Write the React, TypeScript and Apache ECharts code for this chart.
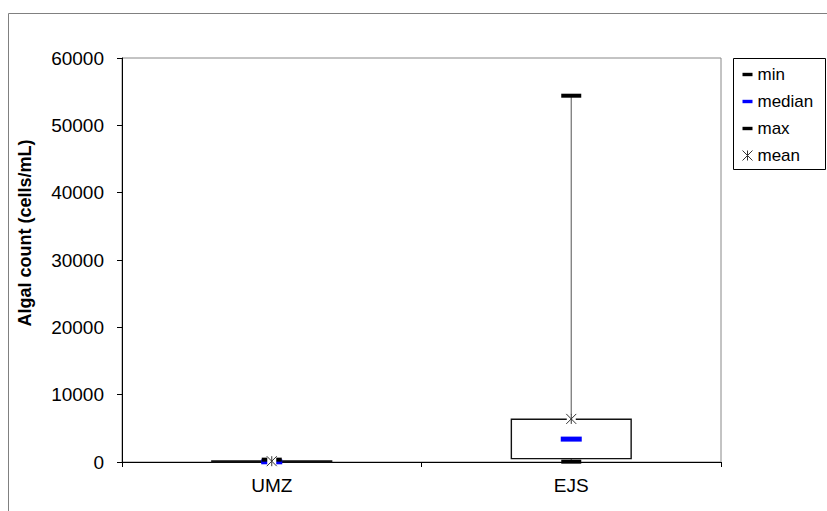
import React, { useEffect, useRef } from "react";
import * as echarts from "echarts";

const categories = ["UMZ", "EJS"];
const minValues = [0, 50];
const q1Values = [0, 500];
const medianValues = [30, 3400];
const q3Values = [150, 6350];
const maxValues = [350, 54400];
const meanValues = [120, 6400];
const yTicks = { min: 0, max: 60000, interval: 10000 };
const yAxisTitle = "Algal count (cells/mL)";

const FONT = "'Liberation Sans', Arial, sans-serif";

export default function App() {
  const ref = useRef<HTMLDivElement>(null);

  useEffect(() => {
    if (!ref.current) return;
    const chart = echarts.init(ref.current, null, { renderer: "svg" });

    const boxData = categories.map((_, i) => [
      i,
      minValues[i],
      q1Values[i],
      medianValues[i],
      q3Values[i],
      maxValues[i],
    ]);
    const meanData = categories.map((_, i) => [i, meanValues[i]]);

    const dashIcon = "path://M0,0L0,0M10,10L10,10M0,3.3h10v3.4h-10z";
    const starPath = "path://M0,0L10,10M10,0L0,10M5,0L5,10";

    chart.setOption({
      animation: false,
      backgroundColor: "#fff",
      textStyle: { fontFamily: FONT },
      grid: {
        left: 122,
        top: 58,
        right: 106,
        bottom: 49,
        show: true,
        borderColor: "#888",
        borderWidth: 1,
        backgroundColor: "transparent",
      },
      legend: {
        orient: "vertical",
        left: 742,
        top: 66,
        padding: 0,
        itemWidth: 10,
        itemHeight: 10,
        itemGap: 10,
        selectedMode: false,
        textStyle: { fontSize: 17, color: "#000", lineHeight: 17, fontFamily: FONT },
        data: [
          { name: "min", icon: dashIcon, itemStyle: { color: "#000", opacity: 1 } },
          { name: "median", icon: dashIcon, itemStyle: { color: "#0000ff", opacity: 1 } },
          { name: "max", icon: dashIcon, itemStyle: { color: "#000", opacity: 1 } },
          {
            name: "mean",
            icon: starPath,
            itemStyle: { color: "transparent", borderColor: "#333", borderWidth: 1, opacity: 1 },
          },
        ],
      },
      xAxis: {
        type: "category",
        data: categories,
        boundaryGap: true,
        axisLine: { show: true, lineStyle: { color: "#000", width: 1 } },
        axisTick: { show: true, length: 5, lineStyle: { color: "#000" } },
        axisLabel: { fontSize: 19, color: "#000", margin: 14, fontFamily: FONT },
        splitLine: { show: false },
      },
      yAxis: {
        type: "value",
        min: yTicks.min,
        max: yTicks.max,
        interval: yTicks.interval,
        axisLine: { show: true, lineStyle: { color: "#000", width: 1 } },
        axisTick: { show: true, length: 5, lineStyle: { color: "#000" } },
        axisLabel: {
          fontSize: 19,
          color: "#000",
          margin: 18,
          fontFamily: FONT,
          formatter: (v: number) => String(v),
        },
        splitLine: { show: false },
      },
      graphic: [
        {
          type: "rect",
          silent: true,
          shape: { x: 8.5, y: 13.5, width: 900, height: 600 },
          style: { fill: "none", stroke: "#808080", lineWidth: 1 },
          z: 0,
        },
        {
          type: "rect",
          silent: true,
          shape: { x: 733.5, y: 58.5, width: 92, height: 111 },
          style: { fill: "none", stroke: "#000", lineWidth: 1 },
        },
        {
          type: "text",
          silent: true,
          x: 25,
          y: 233,
          rotation: Math.PI / 2,
          style: {
            text: yAxisTitle,
            font: `bold 18px ${FONT}`,
            fill: "#000",
            align: "center",
            verticalAlign: "middle",
          },
        },
      ],
      series: [
        {
          name: "box",
          type: "custom",
          z: 1,
          data: boxData,
          encode: { x: 0, y: [1, 2, 3, 4, 5] },
          renderItem: (params: any, api: any) => {
            const x = api.value(0);
            const pMin = api.coord([x, api.value(1)]);
            const pQ1 = api.coord([x, api.value(2)]);
            const pQ3 = api.coord([x, api.value(4)]);
            const pMax = api.coord([x, api.value(5)]);
            const w = api.size([1, 0])[0] * 0.4;
            return {
              type: "group",
              children: [
                {
                  type: "line",
                  shape: { x1: pMax[0], y1: pMax[1], x2: pQ3[0], y2: pQ3[1] },
                  style: { stroke: "#707070", lineWidth: 1.2 },
                },
                {
                  type: "line",
                  shape: { x1: pQ1[0], y1: pQ1[1], x2: pMin[0], y2: pMin[1] },
                  style: { stroke: "#707070", lineWidth: 1.2 },
                },
                {
                  type: "rect",
                  shape: {
                    x: pQ3[0] - w / 2,
                    y: pQ3[1],
                    width: w,
                    height: Math.max(pQ1[1] - pQ3[1], 0.5),
                  },
                  style: { fill: "#fff", stroke: "#111", lineWidth: 1.4 },
                },
              ],
            };
          },
        },
        {
          name: "min",
          type: "scatter",
          z: 2,
          data: minValues,
          symbol: "rect",
          symbolSize: [20, 4],
          itemStyle: { color: "#000", opacity: 1 },
        },
        {
          name: "median",
          type: "scatter",
          z: 2,
          data: medianValues,
          symbol: "rect",
          symbolSize: [21, 5],
          itemStyle: { color: "#0000ff", opacity: 1 },
        },
        {
          name: "max",
          type: "scatter",
          z: 2,
          data: maxValues,
          symbol: "rect",
          symbolSize: [20, 4],
          itemStyle: { color: "#000", opacity: 1 },
        },
        {
          name: "meanPatch",
          type: "custom",
          z: 3,
          data: meanData,
          encode: { x: 0, y: 1 },
          renderItem: (params: any, api: any) => {
            const p = api.coord([api.value(0), api.value(1)]);
            return {
              type: "rect",
              shape: { x: p[0] - 4.5, y: p[1] - 4.5, width: 9, height: 9 },
              style: { fill: "#fff" },
            };
          },
        },
        {
          name: "mean",
          type: "scatter",
          z: 4,
          data: meanValues,
          symbol: starPath,
          symbolSize: 10,
          itemStyle: { color: "transparent", borderColor: "#333", borderWidth: 1, opacity: 1 },
        },
      ],
    });

    return () => chart.dispose();
  }, []);

  return (
    <div
      ref={ref}
      style={{ position: "fixed", left: 0, top: 0, width: 827, height: 511 }}
    />
  );
}
